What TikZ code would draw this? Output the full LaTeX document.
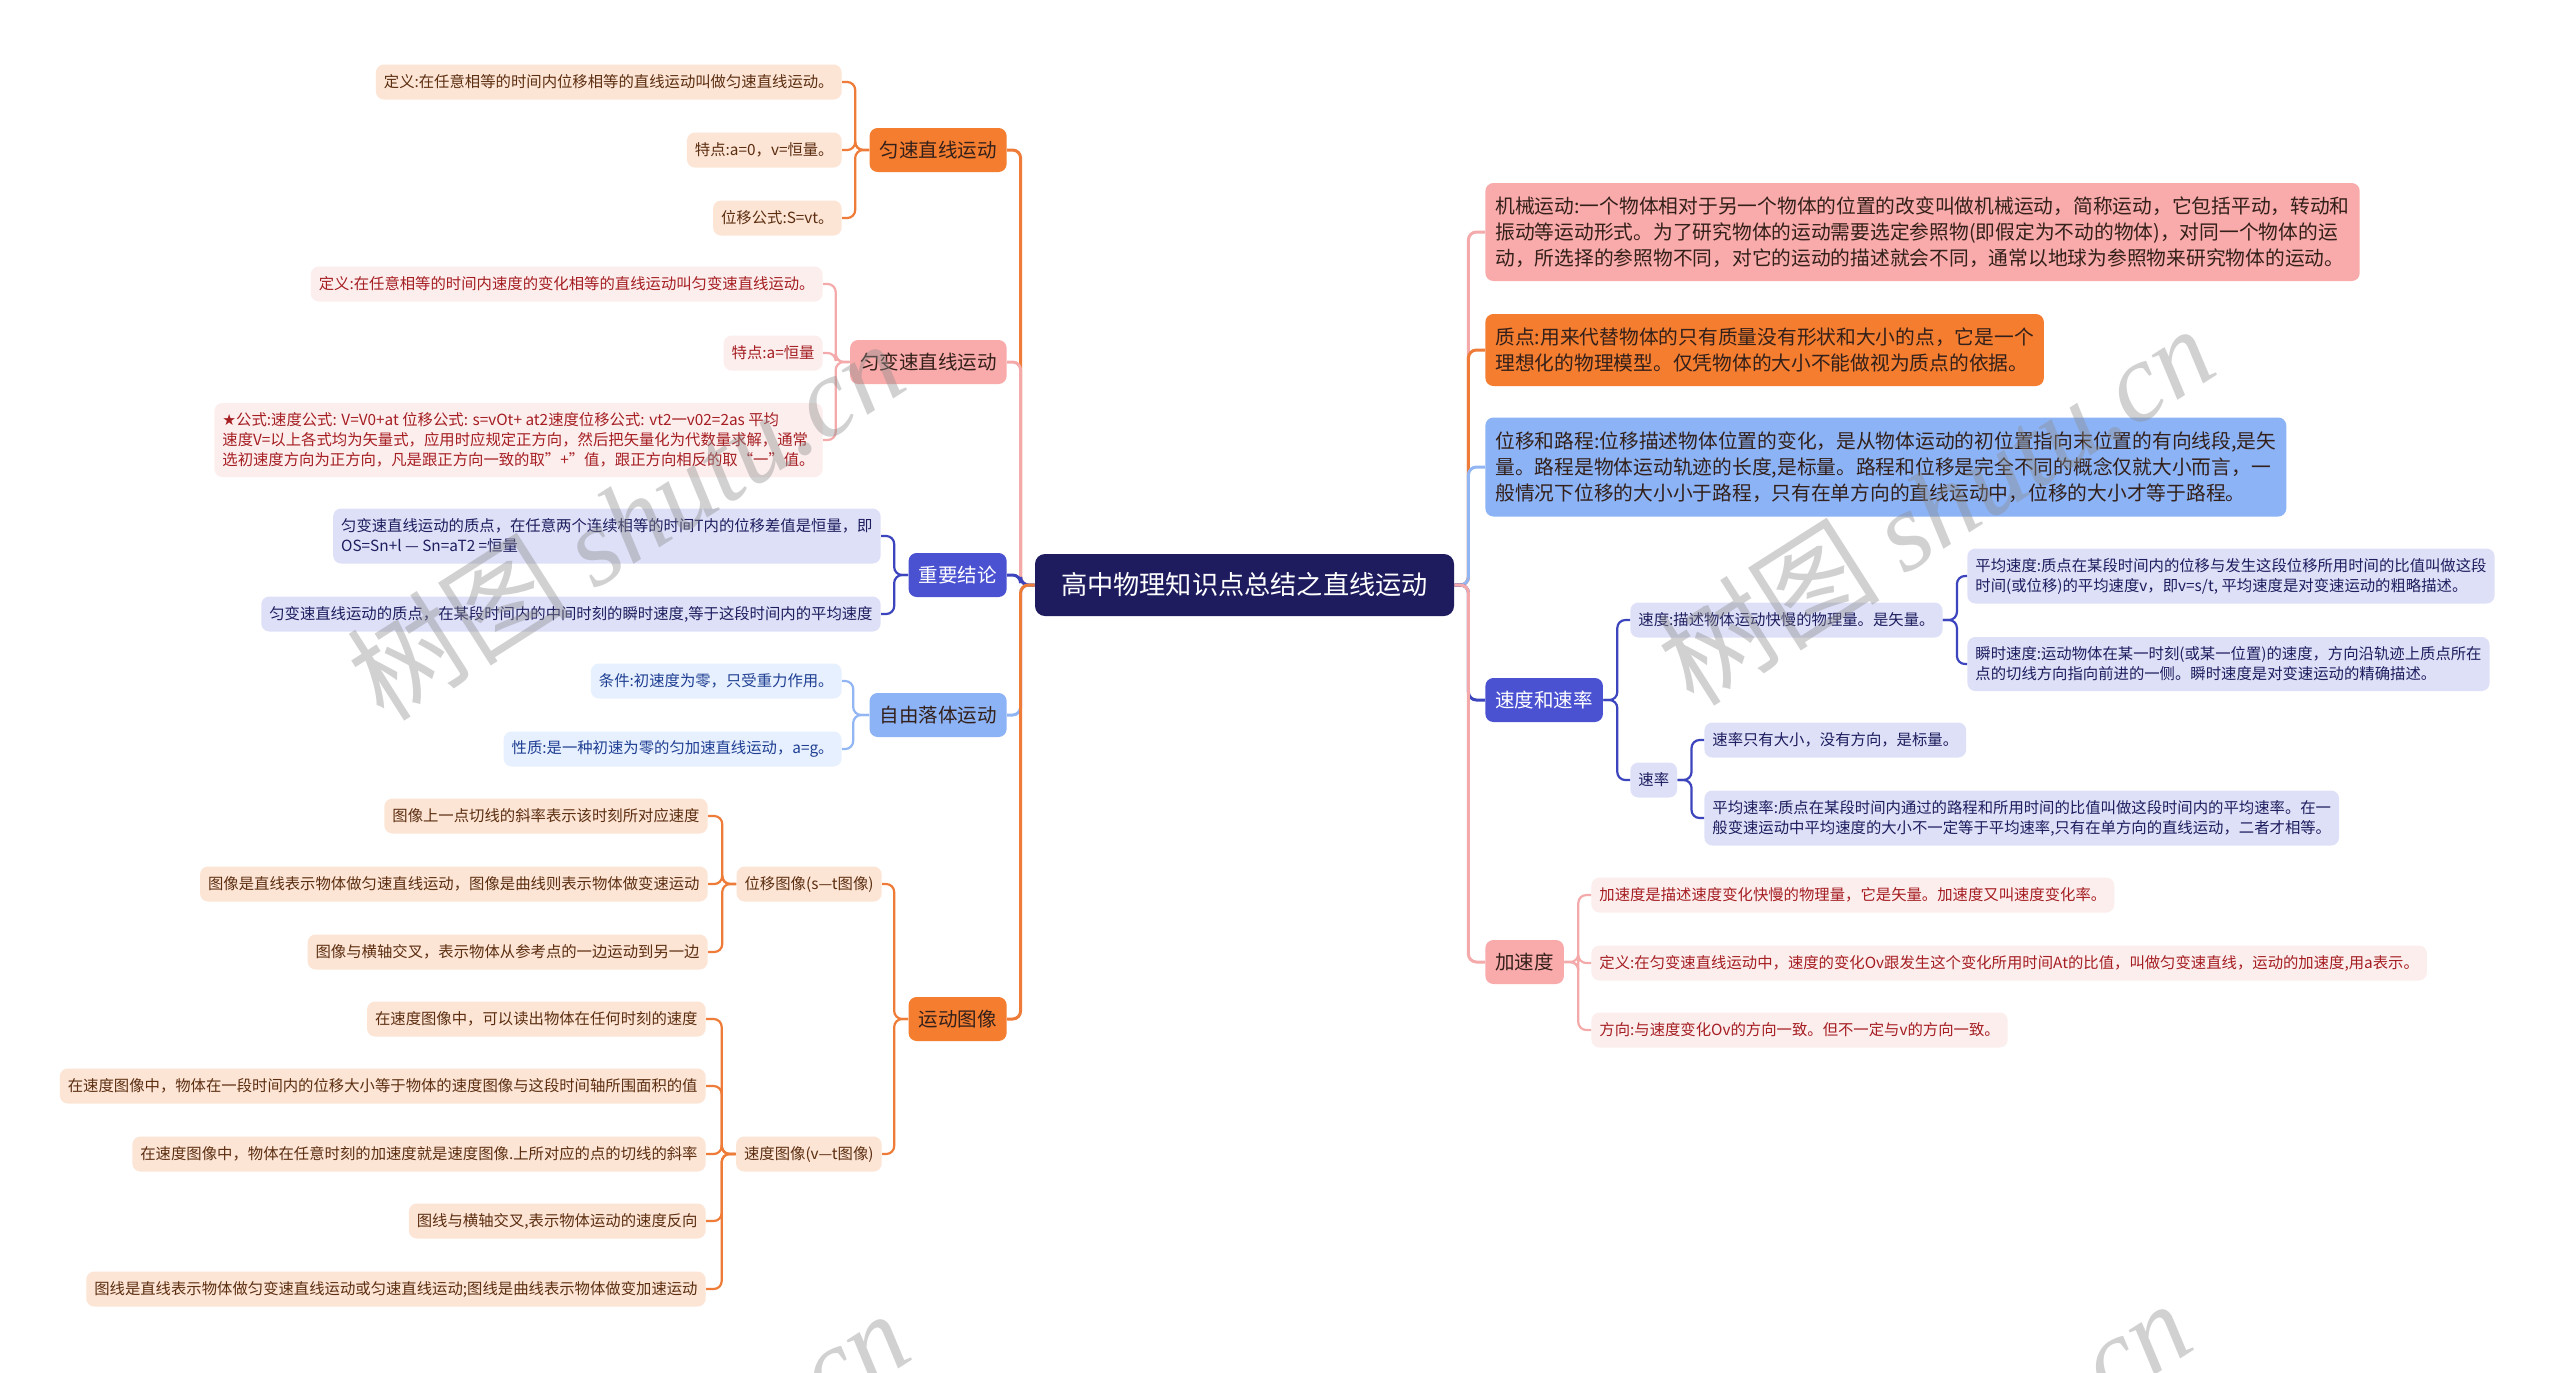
\documentclass[tikz,border=0pt]{standalone}
\usepackage{fontspec}
\setmainfont{Noto Sans CJK SC}
\newfontfamily\symfont{DejaVu Sans}
\newfontfamily\wmlatin{Liberation Serif}
\usetikzlibrary{calc}
\definecolor{cnavy}{HTML}{1E1B5E}
\definecolor{corange}{HTML}{F47D30}
\definecolor{cpink}{HTML}{F9AAAA}
\definecolor{cbp}{HTML}{4B52D1}
\definecolor{clb}{HTML}{8CB3F5}
\definecolor{cdark}{HTML}{33201A}
\definecolor{peachbg}{HTML}{FDE5D6}
\definecolor{peachtx}{HTML}{5C2E10}
\definecolor{pinkbg}{HTML}{FDEEEE}
\definecolor{pinktx}{HTML}{A51E22}
\definecolor{lavbg}{HTML}{DEE0F8}
\definecolor{lavtx}{HTML}{1D1D5E}
\definecolor{lbbg}{HTML}{E7F0FE}
\definecolor{lbtx}{HTML}{1F3F93}
\definecolor{lorange}{HTML}{EE7B37}
\definecolor{lpink}{HTML}{F4AAAA}
\definecolor{lblue}{HTML}{3C45BD}
\definecolor{llblue}{HTML}{92B6F4}
\newcommand\fsC{\fontsize{13.1}{16}\selectfont}
\newcommand\fsL{\fontsize{9.75}{12}\selectfont}
\newcommand\fsS{\fontsize{7.68}{10}\selectfont}
\newcommand\fsB{\fontsize{9.87}{13}\selectfont}
\newcommand\fsR{\fontsize{7.68}{10}\selectfont}
\begin{document}
\begin{tikzpicture}[x=0.5pt,y=-0.5pt,
  l1/.style={rounded corners=4pt, minimum height=22pt, inner xsep=5pt, inner ysep=0pt, font=\fsL},
  l2/.style={rounded corners=4pt, minimum height=17.5pt, inner xsep=4pt, inner ysep=0pt, font=\fsS, align=left},
  l2r/.style={rounded corners=4pt, minimum height=17.5pt, inner xsep=4pt, inner ysep=0pt, font=\fsR, align=left},
  big/.style={rounded corners=4pt, inner xsep=5pt, inner ysep=0pt, font=\fsB, align=left},
  conn/.style={line width=1.5pt, rounded corners=4pt},
  sconn/.style={line width=1.1pt, rounded corners=4pt},
  peach/.style={fill=peachbg, text=peachtx},
  pinkb/.style={fill=pinkbg, text=pinktx},
  lavb/.style={fill=lavbg, text=lavtx},
  lbb/.style={fill=lbbg, text=lbtx}
]
\useasboundingbox (0,0) rectangle (2560,1372);
\fill[white] (0,0) rectangle (2560,1372);

% center
\node[rounded corners=5pt, fill=cnavy, text=white, minimum width=209.5pt, minimum height=31pt, font=\fsC] (c) at (1244.5,585) {高中物理知识点总结之直线运动};

% left level 1
\node[l1, fill=corange, text=cdark, anchor=east] (a1) at (1007,150) {匀速直线运动};
\node[l1, fill=cpink, text=cdark, anchor=east] (a2) at (1007,362) {匀变速直线运动};
\node[l1, fill=cbp, text=white, anchor=east] (a3) at (1007,575) {重要结论};
\node[l1, fill=clb, text=cdark, anchor=east] (a4) at (1007,715) {自由落体运动};
\node[l1, fill=corange, text=cdark, anchor=east] (a5) at (1007,1019) {运动图像};

% right level 1
\node[big, fill=cpink, text=cdark, anchor=west, minimum height=49pt] (b1) at (1485,232) {机械运动:一个物体相对于另一个物体的位置的改变叫做机械运动，简称运动，它包括平动，转动和\\振动等运动形式。为了研究物体的运动需要选定参照物(即假定为不动的物体)，对同一个物体的运\\动，所选择的参照物不同，对它的运动的描述就会不同，通常以地球为参照物来研究物体的运动。};
\node[big, fill=corange, text=cdark, anchor=west, minimum height=36pt] (b2) at (1485,350) {质点:用来代替物体的只有质量没有形状和大小的点，它是一个\\理想化的物理模型。仅凭物体的大小不能做视为质点的依据。};
\node[big, fill=clb, text=cdark, anchor=west, minimum height=49.5pt] (b3) at (1485,467) {位移和路程:位移描述物体位置的变化，是从物体运动的初位置指向末位置的有向线段,是矢\\量。路程是物体运动轨迹的长度,是标量。路程和位移是完全不同的概念仅就大小而言，一\\般情况下位移的大小小于路程，只有在单方向的直线运动中，位移的大小才等于路程。};
\node[l1, fill=cbp, text=white, anchor=west] (b4) at (1485,700) {速度和速率};
\node[l1, fill=cpink, text=cdark, anchor=west] (b5) at (1485,962) {加速度};

% main connectors left
\draw[conn, lorange] (c.west) -- ++(-14,0) |- (a1.east);
\draw[conn, lpink] (c.west) -- ++(-14,0) |- (a2.east);
\draw[conn, lblue] (c.west) -- ++(-14,0) |- (a3.east);
\draw[conn, llblue] (c.west) -- ++(-14,0) |- (a4.east);
\draw[conn, lorange] (c.west) -- ++(-14,0) |- (a5.east);
% main connectors right
\draw[conn, lpink] (c.east) -- ++(14,0) |- (b1.west);
\draw[conn, lorange] (c.east) -- ++(14,0) |- (b2.west);
\draw[conn, llblue] (c.east) -- ++(14,0) |- (b3.west);
\draw[conn, lblue] (c.east) -- ++(14,0) |- (b4.west);
\draw[conn, lpink] (c.east) -- ++(14,0) |- (b5.west);

% a1 children
\node[l2, peach, anchor=east] (a11) at (842,82) {定义:在任意相等的时间内位移相等的直线运动叫做匀速直线运动。};
\node[l2, peach, anchor=east] (a12) at (842,150) {特点:a=0，v=恒量。};
\node[l2, peach, anchor=east] (a13) at (842,218) {位移公式:S=vt。};
\foreach \n in {a11,a12,a13} \draw[sconn, lorange] (a1.west) -- ++(-14,0) |- (\n.east);

% a2 children
\node[l2, pinkb, anchor=east] (a21) at (823,284) {定义:在任意相等的时间内速度的变化相等的直线运动叫匀变速直线运动。};
\node[l2, pinkb, anchor=east] (a22) at (823,353) {特点:a=恒量};
\node[l2, pinkb, anchor=east, minimum height=37pt] (a23) at (823,440) {{\symfont ★}公式:速度公式: V=V0+at 位移公式: s=vOt+ at2速度位移公式: vt2一v02=2as 平均\\速度V=以上各式均为矢量式，应用时应规定正方向，然后把矢量化为代数量求解，通常\\选初速度方向为正方向，凡是跟正方向一致的取"+”值，跟正方向相反的取“一”值。};
\foreach \n in {a21,a22,a23} \draw[sconn, lpink] (a2.west) -- ++(-14,0) |- (\n.east);

% a3 children
\node[l2, lavb, anchor=east, minimum height=27.5pt] (a31) at (881,536) {匀变速直线运动的质点，在任意两个连续相等的时间T内的位移差值是恒量，即\\OS=Sn+l — Sn=aT2 =恒量};
\node[l2, lavb, anchor=east] (a32) at (881,614) {匀变速直线运动的质点，在某段时间内的中间时刻的瞬时速度,等于这段时间内的平均速度};
\foreach \n in {a31,a32} \draw[sconn, lblue] (a3.west) -- ++(-14,0) |- (\n.east);

% a4 children
\node[l2, lbb, anchor=east] (a41) at (842,681) {条件:初速度为零，只受重力作用。};
\node[l2, lbb, anchor=east] (a42) at (842,749) {性质:是一种初速为零的匀加速直线运动，a=g。};
\foreach \n in {a41,a42} \draw[sconn, llblue] (a4.west) -- ++(-16,0) |- (\n.east);

% a5 children
\node[l2, peach, anchor=east] (a51) at (882,884) {位移图像(s—t图像)};
\node[l2, peach, anchor=east] (a52) at (882,1154) {速度图像(v—t图像)};
\foreach \n in {a51,a52} \draw[sconn, lorange] (a5.west) -- ++(-14,0) |- (\n.east);

\node[l2, peach, anchor=east] (s1) at (708,816) {图像上一点切线的斜率表示该时刻所对应速度};
\node[l2, peach, anchor=east] (s2) at (708,884) {图像是直线表示物体做匀速直线运动，图像是曲线则表示物体做变速运动};
\node[l2, peach, anchor=east] (s3) at (708,952) {图像与横轴交叉，表示物体从参考点的一边运动到另一边};
\foreach \n in {s1,s2,s3} \draw[sconn, lorange] (a51.west) -- ++(-14,0) |- (\n.east);

\node[l2, peach, anchor=east] (v1) at (706,1019) {在速度图像中，可以读出物体在任何时刻的速度};
\node[l2, peach, anchor=east] (v2) at (706,1086) {在速度图像中，物体在一段时间内的位移大小等于物体的速度图像与这段时间轴所围面积的值};
\node[l2, peach, anchor=east] (v3) at (706,1154) {在速度图像中，物体在任意时刻的加速度就是速度图像.上所对应的点的切线的斜率};
\node[l2, peach, anchor=east] (v4) at (706,1221) {图线与横轴交叉,表示物体运动的速度反向};
\node[l2, peach, anchor=east] (v5) at (706,1289) {图线是直线表示物体做匀变速直线运动或匀速直线运动;图线是曲线表示物体做变加速运动};
\foreach \n in {v1,v2,v3,v4,v5} \draw[sconn, lorange] (a52.west) -- ++(-14,0) |- (\n.east);

% b4 children
\node[l2r, lavb, anchor=west] (b41) at (1630,620) {速度:描述物体运动快慢的物理量。是矢量。};
\node[l2r, lavb, anchor=west] (b42) at (1630,780) {速率};
\foreach \n in {b41,b42} \draw[sconn, lblue] (b4.east) -- ++(14,0) |- (\n.west);

\node[l2r, lavb, anchor=west, minimum height=27.5pt] (b411) at (1967,576) {平均速度:质点在某段时间内的位移与发生这段位移所用时间的比值叫做这段\\时间(或位移)的平均速度v，即v=s/t, 平均速度是对变速运动的粗略描述。};
\node[l2r, lavb, anchor=west, minimum height=27pt] (b412) at (1967,664) {瞬时速度:运动物体在某一时刻(或某一位置)的速度，方向沿轨迹上质点所在\\点的切线方向指向前进的一侧。瞬时速度是对变速运动的精确描述。};
\foreach \n in {b411,b412} \draw[sconn, lblue] (b41.east) -- ++(14,0) |- (\n.west);

\node[l2r, lavb, anchor=west] (b421) at (1704,740) {速率只有大小，没有方向，是标量。};
\node[l2r, lavb, anchor=west, minimum height=27.5pt] (b422) at (1704,818) {平均速率:质点在某段时间内通过的路程和所用时间的比值叫做这段时间内的平均速率。在一\\般变速运动中平均速度的大小不一定等于平均速率,只有在单方向的直线运动，二者才相等。};
\foreach \n in {b421,b422} \draw[sconn, lblue] (b42.east) -- ++(14,0) |- (\n.west);

% b5 children
\node[l2r, pinkb, anchor=west] (b51) at (1591,895) {加速度是描述速度变化快慢的物理量，它是矢量。加速度又叫速度变化率。};
\node[l2r, pinkb, anchor=west] (b52) at (1591,963) {定义:在匀变速直线运动中，速度的变化Ov跟发生这个变化所用时间At的比值，叫做匀变速直线，运动的加速度,用a表示。};
\node[l2r, pinkb, anchor=west] (b53) at (1591,1030) {方向:与速度变化Ov的方向一致。但不一定与v的方向一致。};
\foreach \n in {b51,b52,b53} \draw[sconn, lpink] (b5.east) -- ++(14,0) |- (\n.west);

% watermarks
\begin{scope}
\clip (0,0) rectangle (2560,1372);
\foreach \p in {(625,520),(1935,505),(630,1490),(1912,1480)}
  \node[rotate=32.5, text=black!45, opacity=0.4, font=\fontsize{56}{56}\selectfont] at \p {树图 {\wmlatin\itshape shutu.cn}};
\end{scope}
\end{tikzpicture}
\end{document}
